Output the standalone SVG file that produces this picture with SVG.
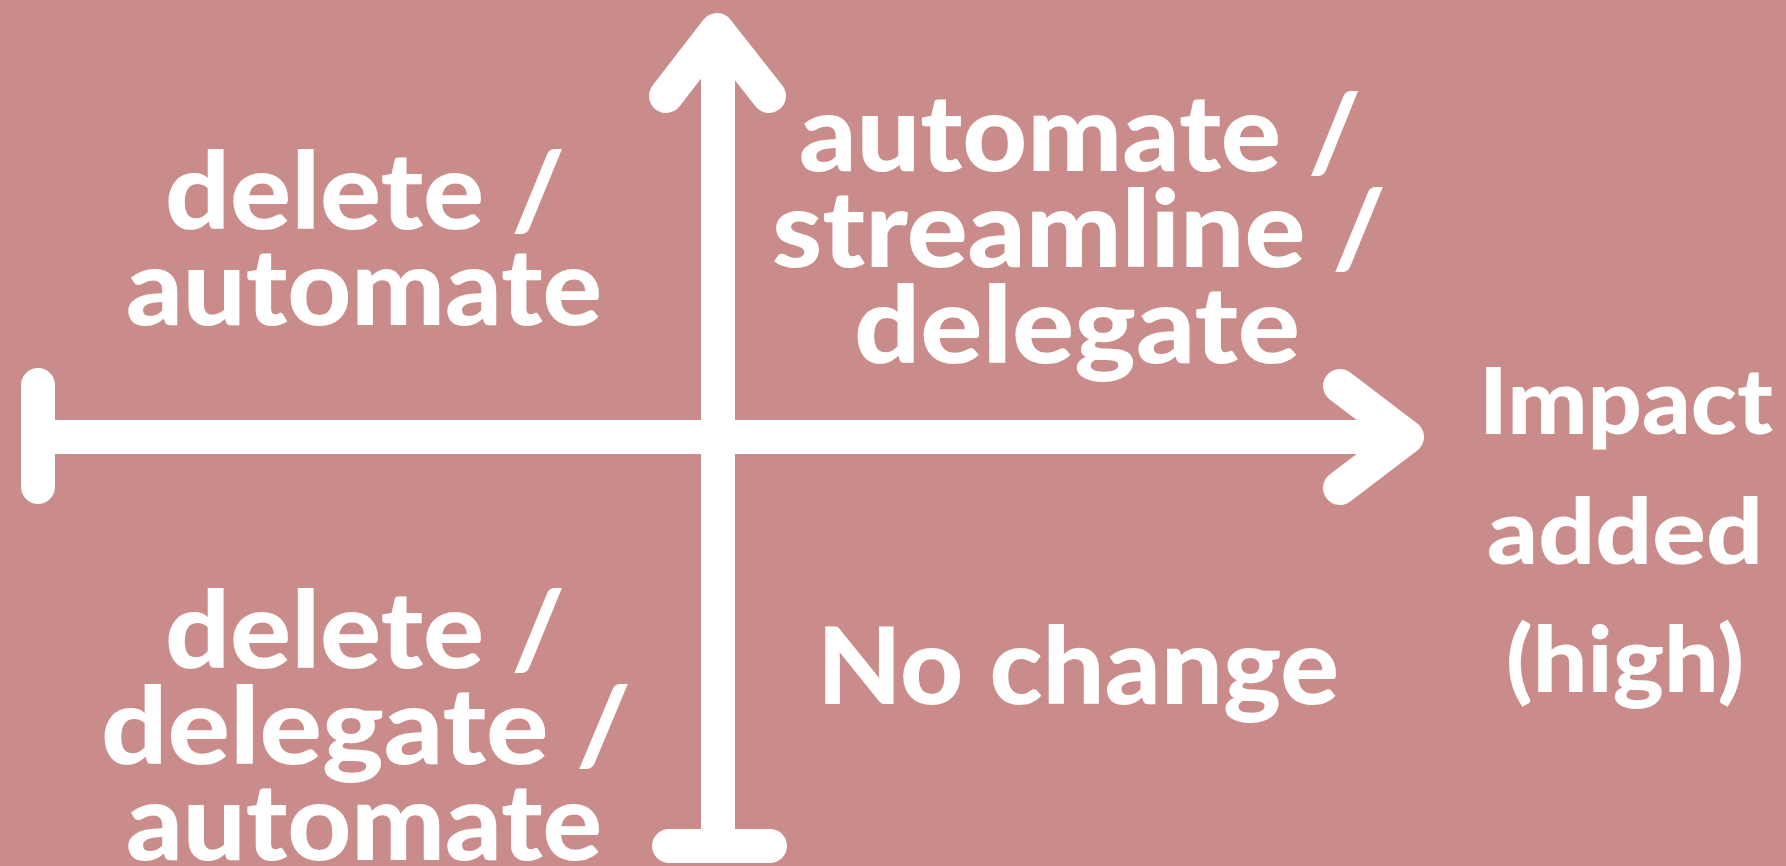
<svg xmlns="http://www.w3.org/2000/svg" width="1786" height="866" viewBox="0 0 1786 866">
<style>
.bg{fill:#C98C8B}
.ax{stroke:#FFFFFF;stroke-width:34;fill:none;stroke-linecap:round;stroke-linejoin:round}
.axb{stroke:#FFFFFF;stroke-width:34;fill:none;stroke-linecap:butt}
.t{font-family:"Lato","Liberation Sans",sans-serif;font-weight:900;fill:#FFFFFF;text-anchor:middle;font-size:106px}
.s{font-size:92px}
</style>
<rect class="bg" x="0" y="0" width="1786" height="866"/>
<g id="connectors">
<line class="axb" x1="38" y1="437" x2="1400" y2="437"/>
<line class="ax" x1="38" y1="385" x2="38" y2="487"/>
<polyline class="ax" points="1340,386 1407,437 1340,488"/>
<line class="axb" x1="718" y1="35" x2="718" y2="846"/>
<polyline class="ax" points="666,96 717,30 769,96"/>
<line class="ax" x1="669" y1="846" x2="770" y2="846"/>
</g>
<g id="top-left">
<text class="t" x="365" y="229" textLength="400" lengthAdjust="spacingAndGlyphs">delete /</text>
<text class="t" x="364" y="325" textLength="476" lengthAdjust="spacingAndGlyphs">automate</text>
</g>
<g id="top-right">
<text class="t" x="1080" y="171" textLength="562" lengthAdjust="spacingAndGlyphs">automate /</text>
<text class="t" x="1079" y="267" textLength="614" lengthAdjust="spacingAndGlyphs">streamline /</text>
<text class="t" x="1077" y="363" textLength="446" lengthAdjust="spacingAndGlyphs">delegate</text>
</g>
<g id="bottom-left">
<text class="t" x="365" y="668" textLength="400" lengthAdjust="spacingAndGlyphs">delete /</text>
<text class="t" x="366" y="764" textLength="530" lengthAdjust="spacingAndGlyphs">delegate /</text>
<text class="t" x="364" y="860" textLength="476" lengthAdjust="spacingAndGlyphs">automate</text>
</g>
<g id="bottom-right">
<text class="t" x="1078" y="704" textLength="522" lengthAdjust="spacingAndGlyphs">No change</text>
</g>
<g id="axis-label">
<text class="t s" x="1626" y="434" textLength="294" lengthAdjust="spacingAndGlyphs">Impact</text>
<text class="t s" x="1625" y="564" textLength="276" lengthAdjust="spacingAndGlyphs">added</text>
<text class="t s" x="1625" y="692" textLength="238" lengthAdjust="spacingAndGlyphs">(high)</text>
</g>
</svg>
